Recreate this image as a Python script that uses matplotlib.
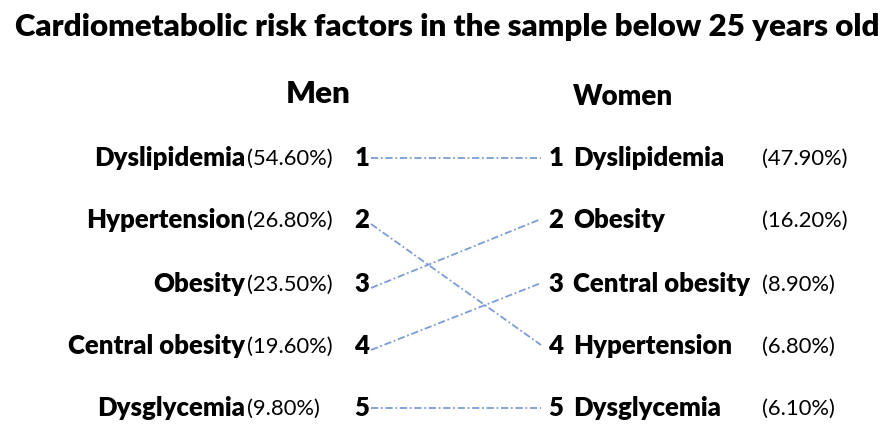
import matplotlib
matplotlib.use('Agg')
import matplotlib.pyplot as plt

plt.rcParams['font.family'] = ['Lato', 'DejaVu Sans']

title = 'Cardiometabolic risk factors in the sample below 25 years old'

men_factors = ['Dyslipidemia', 'Hypertension', 'Obesity', 'Central obesity', 'Dysglycemia']
men_pct = ['(54.60%)', '(26.80%)', '(23.50%)', '(19.60%)', '(9.80%)']

women_factors = ['Dyslipidemia', 'Obesity', 'Central obesity', 'Hypertension', 'Dysglycemia']
women_pct = ['(47.90%)', '(16.20%)', '(8.90%)', '(6.80%)', '(6.10%)']

ranks = [1, 2, 3, 4, 5]

# layout in pixel coordinates
W, H = 896, 428
row_y = [158, 220, 284, 346, 408]
men_name_right = 245
men_pct_left = 247
men_num_x = 362
women_num_x = 556
women_name_left = 573
women_pct_left = 762
line_left, line_right = 371, 541

fig = plt.figure(figsize=(W / 100, H / 100), dpi=100)
ax = fig.add_axes([0, 0, 1, 1])
ax.set_xlim(0, W)
ax.set_ylim(H, 0)
ax.axis('off')

ax.text(447, 27, title, ha='center', va='center', fontsize=22.5, fontweight='heavy')
ax.text(318, 94, 'Men', ha='center', va='center', fontsize=22.5, fontweight='heavy')
ax.text(623, 97, 'Women', ha='center', va='center', fontsize=20, fontweight='heavy')

for i, r in enumerate(ranks):
    y = row_y[i]
    ax.text(men_name_right, y, men_factors[i], ha='right', va='center',
            fontsize=18.5, fontweight='heavy')
    ax.text(men_pct_left, y + 1, men_pct[i], ha='left', va='center', fontsize=15.8)
    ax.text(men_num_x, y, str(r), ha='center', va='center', fontsize=18.5, fontweight='heavy')

    ax.text(women_num_x, y, str(r), ha='center', va='center', fontsize=18.5, fontweight='heavy')
    ax.text(women_name_left, y, women_factors[i], ha='left', va='center',
            fontsize=18.5, fontweight='heavy')
    ax.text(women_pct_left, y + 1, women_pct[i], ha='left', va='center', fontsize=15.8)

# connect each men's factor to its rank among women
for i, f in enumerate(men_factors):
    j = women_factors.index(f)
    y0, y1 = row_y[i], row_y[j]
    if i != j:
        y0, y1 = y0 + 4, y1 - 1
    ax.plot([line_left, line_right], [y0, y1], color='#4472C4', lw=1.3,
            ls=(0, (4, 1.5, 1, 1.5)), alpha=0.7)

fig.savefig('out.png', dpi=100)
